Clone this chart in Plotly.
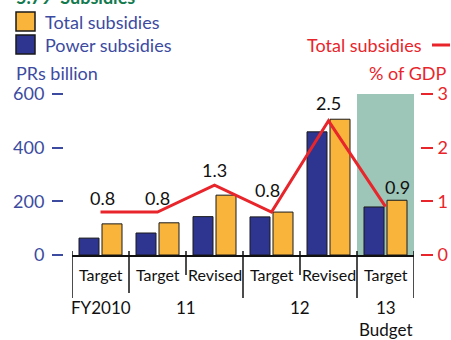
import plotly.graph_objects as go

# Subsidies, PRs billion and % of GDP
periods = ["Target", "Target", "Revised", "Target", "Revised", "Target"]
years = ["FY2010", "11", "12", "13"]
power_subsidies = [63, 82, 143, 142, 459, 179]
total_subsidies = [116, 120, 223, 160, 506, 204]
total_pct_gdp = [0.8, 0.8, 1.3, 0.8, 2.5, 0.9]
left_ticks = [0, 200, 400, 600]
right_ticks = [0, 1, 2, 3]

W, H = 451, 340
FONT = "Lato"
BLUE = "#2e3590"
ORANGE = "#f9b43c"
RED = "#e8252b"
AXIS_BLUE = "#3c4b9f"
SHADE = "#9dc5b8"
GREEN = "#137a4f"


def px(x):
    return x / W


def py(y):
    return 1 - y / H


x_idx = list(range(len(periods)))
bar_w = 20 / 57

fig = go.Figure()

fig.add_trace(go.Bar(
    x=x_idx, y=power_subsidies, width=bar_w, offset=-21.5 / 57,
    marker=dict(color=BLUE, line=dict(color="#1a1a1a", width=1)),
    name="Power subsidies", showlegend=False,
))
fig.add_trace(go.Bar(
    x=x_idx, y=total_subsidies, width=bar_w, offset=1.5 / 57,
    marker=dict(color=ORANGE, line=dict(color="#1a1a1a", width=1)),
    name="Total subsidies", showlegend=False,
))
fig.add_trace(go.Scatter(
    x=x_idx, y=total_pct_gdp, yaxis="y2", mode="lines",
    line=dict(color=RED, width=3), showlegend=False,
))

# value labels over the % of GDP line
label_shift = [(2, 14), (0, 14), (0, 15), (-4, 22), (0, 18), (12, 20)]
annotations = []
for i, v in enumerate(total_pct_gdp):
    dx, dy = label_shift[i]
    annotations.append(dict(
        x=i, y=v, xref="x", yref="y2", text=f"{v:.1f}", showarrow=False,
        xshift=dx, yshift=dy, font=dict(family=FONT, size=18, color="#111"),
    ))

# period labels under the axis
for i, p in enumerate(periods):
    annotations.append(dict(
        x=i, y=py(274), xref="x", yref="paper", text=p, showarrow=False,
        yanchor="middle", font=dict(family=FONT, size=16, color="#111"),
    ))

# fiscal year labels
year_pos = [0, 1.5, 3.5, 5]
for yr, xp in zip(years, year_pos):
    annotations.append(dict(
        x=xp, y=py(307), xref="x", yref="paper", text=yr, showarrow=False,
        yanchor="middle", font=dict(family=FONT, size=17, color="#111"),
    ))
annotations.append(dict(
    x=5, y=py(329), xref="x", yref="paper", text="Budget", showarrow=False,
    yanchor="middle", font=dict(family=FONT, size=17, color="#111"),
))

# legend, axis titles and heading
annotations += [
    dict(x=px(43), y=py(22), xref="paper", yref="paper", text="Total subsidies",
         showarrow=False, xanchor="left", yanchor="middle",
         font=dict(family=FONT, size=18, color=AXIS_BLUE)),
    dict(x=px(43), y=py(45), xref="paper", yref="paper", text="Power subsidies",
         showarrow=False, xanchor="left", yanchor="middle",
         font=dict(family=FONT, size=18, color=AXIS_BLUE)),
    dict(x=px(14), y=py(73), xref="paper", yref="paper", text="PRs billion",
         showarrow=False, xanchor="left", yanchor="middle",
         font=dict(family=FONT, size=18, color=AXIS_BLUE)),
    dict(x=px(424), y=py(45), xref="paper", yref="paper", text="Total subsidies",
         showarrow=False, xanchor="right", yanchor="middle",
         font=dict(family=FONT, size=18, color=RED)),
    dict(x=px(448), y=py(73), xref="paper", yref="paper", text="% of GDP",
         showarrow=False, xanchor="right", yanchor="middle",
         font=dict(family=FONT, size=18, color=RED)),
    dict(x=px(14), y=py(10), xref="paper", yref="paper", text="<b>5.79  Subsidies</b>",
         showarrow=False, xanchor="left", yanchor="bottom",
         font=dict(family=FONT, size=18, color=GREEN)),
]

shapes = [
    # budget year shading
    dict(type="rect", xref="x", yref="y", x0=4.5, x1=5.5, y0=0, y1=600,
         fillcolor=SHADE, line=dict(width=0), layer="below"),
    # legend swatches
    dict(type="rect", xref="paper", yref="paper", x0=px(16), x1=px(35),
         y0=py(31), y1=py(12), fillcolor=ORANGE, line=dict(color="#1a1a1a", width=1.5)),
    dict(type="rect", xref="paper", yref="paper", x0=px(16), x1=px(35),
         y0=py(54), y1=py(35), fillcolor=BLUE, line=dict(color="#1a1a1a", width=1.5)),
    # red line key
    dict(type="line", xref="paper", yref="paper", x0=px(432), x1=px(450),
         y0=py(45), y1=py(45), line=dict(color=RED, width=3)),
]

# separators between periods and years
bounds = [-0.5, 0.5, 1.5, 2.5, 3.5, 4.5, 5.5]
ends = [298, 293, 275, 298, 275, 298, 298]
for b, e in zip(bounds, ends):
    shapes.append(dict(type="line", xref="x", yref="paper", x0=b, x1=b,
                       y0=py(251), y1=py(e), line=dict(color="#111", width=1.5)))

fig.update_layout(
    width=W, height=H, autosize=False,
    margin=dict(l=0, r=0, t=0, b=0, pad=0, autoexpand=False),
    paper_bgcolor="white", plot_bgcolor="white",
    barmode="overlay",
    showlegend=False,
    xaxis=dict(range=[-0.5, 5.5], domain=[px(72), px(414)], showline=True,
               linecolor="#111", linewidth=2, showticklabels=False, ticks="",
               showgrid=False, zeroline=False, automargin=False),
    yaxis=dict(range=[0, 600], domain=[py(255), py(94)], anchor="free",
               position=px(63), tickvals=left_ticks, ticks="outside", ticklen=11,
               tickwidth=1.5, tickcolor=AXIS_BLUE, showline=False, showgrid=False,
               zeroline=False, ticklabelstandoff=4, automargin=False,
               tickfont=dict(family=FONT, size=18, color=AXIS_BLUE)),
    yaxis2=dict(range=[0, 3], overlaying="y", side="right", anchor="free",
                position=px(420), tickvals=right_ticks, ticks="outside", ticklen=12,
                tickwidth=1.5, tickcolor=RED, showline=False, showgrid=False,
                zeroline=False, ticklabelstandoff=1, automargin=False,
                tickfont=dict(family=FONT, size=18, color=RED)),
    annotations=annotations,
    shapes=shapes,
)

fig.write_html("out.html")
